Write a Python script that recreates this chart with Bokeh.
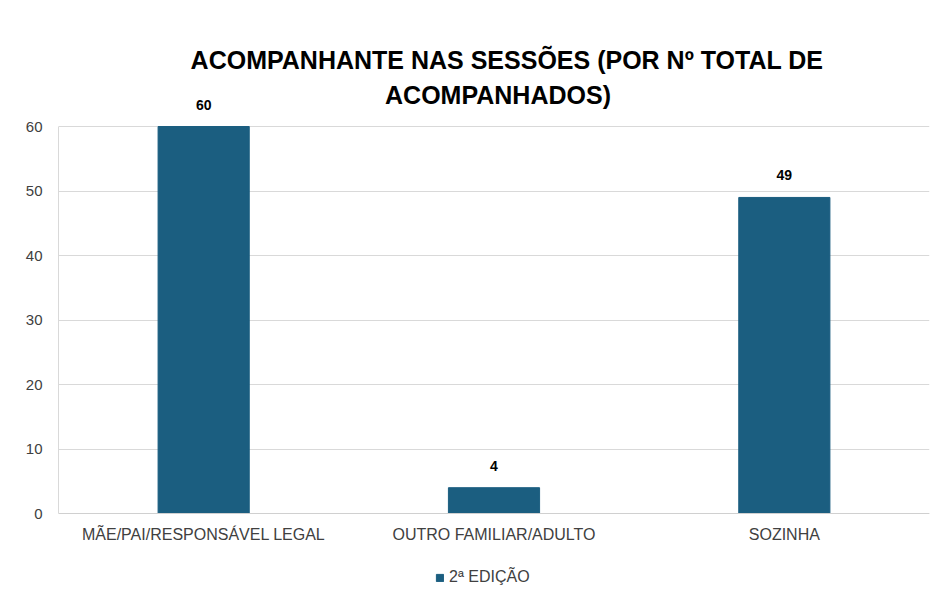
from bokeh.plotting import figure
from bokeh.models import (ColumnDataSource, LabelSet, Label, FixedTicker, Range1d,
                          Legend, LegendItem, CategoricalAxis)
from bokeh.core.properties import value
from bokeh.embed import file_html
from bokeh.resources import INLINE

categories = ["MÃE/PAI/RESPONSÁVEL LEGAL", "OUTRO FAMILIAR/ADULTO", "SOZINHA"]
values = [60, 4, 49]
series_name = "2ª EDIÇÃO"
y_ticks = [0, 10, 20, 30, 40, 50, 60]
title_lines = ["ACOMPANHANTE NAS SESSÕES (POR Nº TOTAL DE", "ACOMPANHADOS)"]

FONT = "Liberation Sans"
BAR = "#1b5e80"

# layout geometry (pixels)
W, H = 932, 593
LEFT = 58
PX_PER_UNIT = 387 / 60.0
ZERO_PX = 513
y_lo = -(H - ZERO_PX) / PX_PER_UNIT
y_hi = ZERO_PX / PX_PER_UNIT

src = ColumnDataSource(dict(cat=categories, val=values, lab=[str(v) for v in values]))

p = figure(x_range=categories, y_range=Range1d(y_lo, y_hi), width=W, height=H,
           output_backend="svg", toolbar_location=None, x_axis_location=None,
           min_border_left=LEFT, min_border_right=3, min_border_top=0, min_border_bottom=0)
p.x_range.range_padding = 0

r = p.vbar(x="cat", top="val", width=0.314, source=src, color=BAR)

labels = LabelSet(x="cat", y="val", text="lab", source=src, text_align="center",
                  text_baseline="alphabetic", y_offset=17, text_font=value(FONT),
                  text_font_size="14px", text_font_style="bold", text_color="#000000")
p.add_layout(labels)

# title as two centred lines
for txt, py, dx in zip(title_lines, [59, 94], [13, 4]):
    p.add_layout(Label(x=1.5, y=(ZERO_PX - py) / PX_PER_UNIT, text=txt, x_offset=dx,
                       text_align="center", text_baseline="alphabetic",
                       text_font=FONT, text_font_size="25px", text_font_style="bold",
                       text_color="#000000"))

xaxis = CategoricalAxis(fixed_location=0)
xaxis.major_tick_line_color = None
xaxis.minor_tick_line_color = None
xaxis.axis_line_color = "#d0d0d0"
xaxis.major_label_text_font = FONT
xaxis.major_label_text_font_size = "16px"
xaxis.major_label_text_color = "#404040"
xaxis.major_label_standoff = 6
p.add_layout(xaxis, "below")

p.yaxis.ticker = FixedTicker(ticks=y_ticks)
p.yaxis.bounds = (0, 60)
p.yaxis.major_tick_line_color = None
p.yaxis.minor_tick_line_color = None
p.yaxis.axis_line_color = "#d9d9d9"
p.yaxis.major_label_text_font = FONT
p.yaxis.major_label_text_font_size = "15px"
p.yaxis.major_label_text_color = "#404040"
p.yaxis.major_label_standoff = 10

p.xgrid.grid_line_color = None
p.ygrid.grid_line_color = "#d9d9d9"
p.ygrid.ticker = FixedTicker(ticks=y_ticks)
p.outline_line_color = None

legend = Legend(items=[LegendItem(label=series_name, renderers=[r])],
                orientation="horizontal", location=(377, 7),
                label_text_font=FONT, label_text_font_size="16px",
                label_text_color="#404040", glyph_width=9, glyph_height=9,
                label_height=16, label_standoff=5, border_line_color=None,
                padding=0, margin=0, spacing=0, background_fill_alpha=0)
p.add_layout(legend)

open("out.html", "w").write(file_html(p, INLINE))
